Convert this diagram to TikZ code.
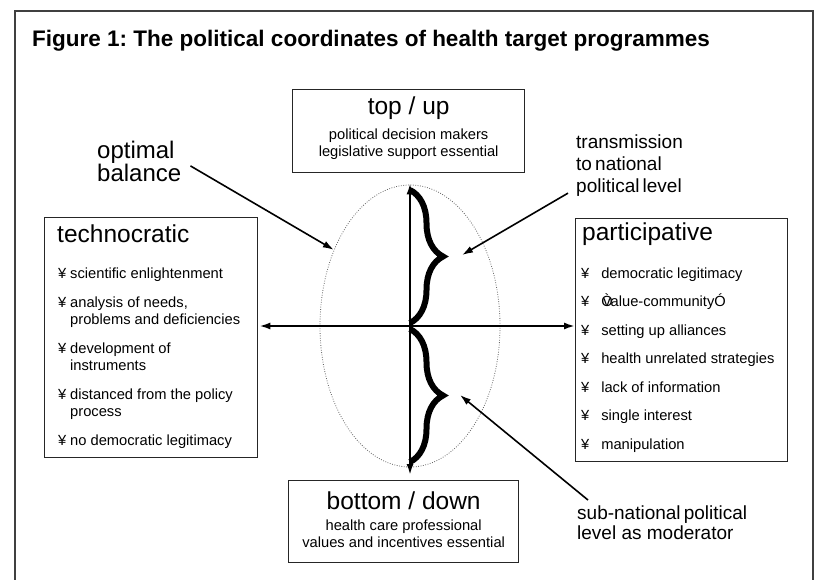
\documentclass[tikz,border=0pt]{standalone}
\usepackage{fontspec}
\setmainfont{Liberation Sans}
\usetikzlibrary{arrows.meta,decorations.pathreplacing,shapes.geometric,positioning}
\frenchspacing

% bullet of the lists, and the indent of a second line
\newcommand{\bul}[1][12pt]{\makebox[#1][l]{¥}}
\newcommand{\hang}[1][12pt]{\hspace*{#1}}

\begin{document}
\begin{tikzpicture}[x=1pt,y=-1pt,
  panel/.style={draw=black!85, line width=1.3pt, inner sep=0pt, anchor=north west},
  heading/.style={font=\fontsize{24.5}{26}\selectfont, inner sep=0pt},
  small/.style={font=\fontsize{14.7}{17}\selectfont, inner sep=0pt, align=center, anchor=base},
  itemlist/.style={font=\fontsize{14.7}{17}\selectfont, inner sep=0pt, align=left, anchor=base west},
  note/.style={font=\fontsize{19}{22}\selectfont, inner sep=0pt, align=left, anchor=base west},
  pointer/.style={-{Latex[length=11pt,width=7pt]}, line width=1.6pt},
  axis/.style={{Latex[length=11pt,width=7pt]}-{Latex[length=11pt,width=7pt]}, line width=2pt},
  curly/.style={decorate, decoration={brace, amplitude=33pt}, line width=6pt}]
\path[use as bounding box, fill=white] (0,0) rectangle (818,580);

% frame and title
\draw[line width=2pt, black!75] (15,580) -- (15,11) -- (813,11) -- (813,580);
\node[anchor=base west, inner sep=0pt, font=\fontsize{22.5}{24}\selectfont\bfseries] (title) at (32,47)
  {Figure 1: The political coordinates of health target programmes};

% the four boxes
\node[panel, minimum width=232pt, minimum height=83pt] (topbox) at (292,89) {};
\node[panel, minimum width=230pt, minimum height=82pt] (botbox) at (288,480) {};
\node[panel, minimum width=213pt, minimum height=240pt] (techbox) at (44,217) {};
\node[panel, minimum width=212pt, minimum height=243pt] (partbox) at (575,218) {};

% texts sit on the base line of their last line
\node[heading, anchor=base] (toptitle) at ([shift={(0,26)}]topbox.north) {top / up};
\node[small] (toptext) at ([shift={(0,68)}]topbox.north)
  {political decision makers\\legislative support essential};

\node[heading, anchor=base] (bottitle) at ([shift={(0,29)}]botbox.north) {bottom / down};
\node[small] (bottext) at ([shift={(0,67)}]botbox.north)
  {health care professional\\values and incentives essential};

\node[heading, anchor=base west] (techtitle) at ([shift={(13,25)}]techbox.north west) {technocratic};
\node[itemlist] (techitems) at ([shift={(14,228)}]techbox.north west) {%
  \bul scientific enlightenment\\[12pt]
  \bul analysis of needs,\\
  \hang problems and deficiencies\\[12pt]
  \bul development of\\
  \hang instruments\\[12pt]
  \bul distanced from the policy\\
  \hang process\\[12pt]
  \bul no democratic legitimacy};

\node[heading, anchor=base west] (parttitle) at ([shift={(7,22)}]partbox.north west) {participative};
\node[itemlist] (partitems) at ([shift={(6,231)}]partbox.north west) {%
  \bul[16pt] democratic legitimacy\\[11.5pt]
  \bul[16pt] Ò\kern-.64em value-communityÓ\\[11.5pt]
  \bul[16pt] setting up alliances\\[11.5pt]
  \bul[16pt] health unrelated strategies\\[11.5pt]
  \bul[16pt] lack of information\\[11.5pt]
  \bul[16pt] single interest\\[11.5pt]
  \bul[16pt] manipulation};

% axes, ellipse and braces
\coordinate (origin) at (410,326);
\node[ellipse, draw=black!60, dash pattern=on 0.8pt off 1.6pt, line width=0.8pt,
  minimum width=180pt, minimum height=282pt, inner sep=0pt] (balance) at (origin) {};
\draw[axis, shorten <=10pt, shorten >=5pt] (origin |- topbox.south) -- (origin |- botbox.north);
\draw[axis, shorten <=1pt] (techbox.east |- origin) -- (partbox.west |- origin);
\draw[curly] (410,190) -- (410,323);
\draw[curly] (410,329) -- (410,462);
\coordinate (uppertip) at (462,255);
\coordinate (lowertip) at (460,395);

% notes
\node[anchor=base west, inner sep=0pt, align=left, font=\fontsize{24}{23}\selectfont] (optimal) at (97,182)
  {optimal\\balance};
\node[note] (transmission) at (576,193) {transmission\\to\,national\\political\,level};
\node[note, font=\fontsize{19}{20}\selectfont] (subnational) at (577,539)
  {sub-national\,political\\level as moderator};

\draw[pointer] ([shift={(9,4)}]optimal.east) -- (balance.135);
\draw[pointer] ([shift={(-8,-4)}]transmission.south west) -- (uppertip);
\draw[pointer] ([shift={(11,-5)}]subnational.north west) -- (lowertip);
\end{tikzpicture}
\end{document}
